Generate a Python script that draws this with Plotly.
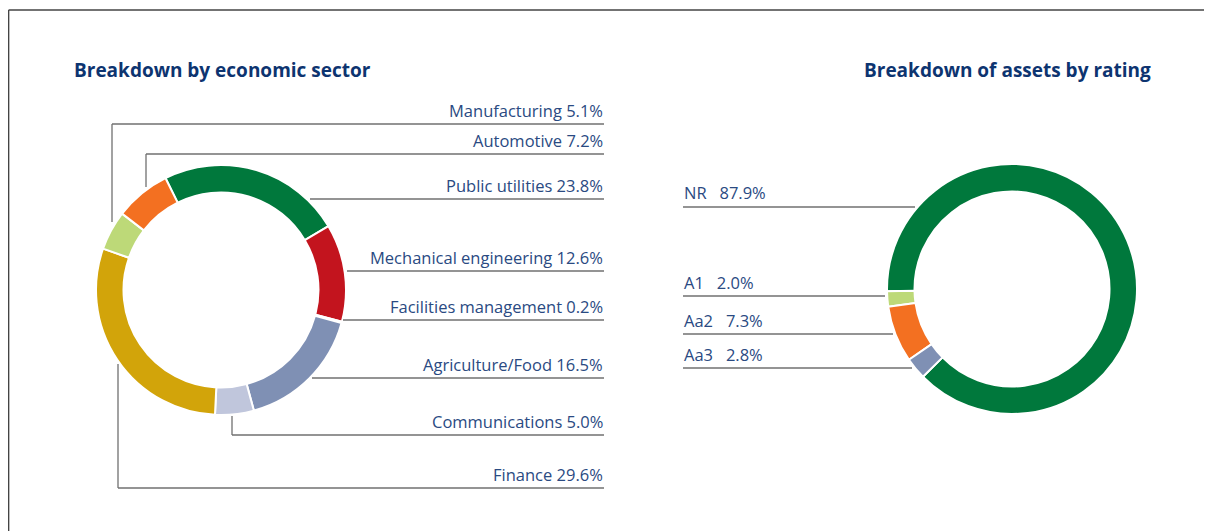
import plotly.graph_objects as go

# the page places the figure 8px from the top-left corner of the window
OFF = 8
W, H = 1212 - OFF, 531 - OFF

# ---- data ----
sector_names = ["Public utilities", "Mechanical engineering", "Facilities management",
                "Agriculture/Food", "Communications", "Finance", "Manufacturing", "Automotive"]
sector_values = [23.8, 12.6, 0.2, 16.5, 5.0, 29.6, 5.1, 7.2]
sector_colors = ["#00783C", "#C3141E", "#0B2F6E", "#7F90B4", "#C0C6DC", "#D2A40A", "#BDD978", "#F37021"]

rating_names = ["NR", "A1", "Aa2", "Aa3"]
rating_values = [87.9, 2.0, 7.3, 2.8]
rating_colors = ["#00783C", "#BDD978", "#F37021", "#7F90B4"]

TITLE_COLOR = "#0D3470"
LABEL_COLOR = "#2A4A82"
LINE_COLOR = "#707070"
FONT = "Open Sans"


def px(x):
    return (x - OFF) / W


def py(y):
    return 1 - (y - OFF) / H


fig = go.Figure()

fig.add_trace(go.Pie(
    labels=sector_names, values=sector_values, sort=False, direction="clockwise",
    rotation=-26.4, hole=0.78, textinfo="none", hoverinfo="label+percent",
    marker=dict(colors=sector_colors, line=dict(color="white", width=2)),
    domain=dict(x=[px(96), px(346)], y=[py(415), py(165)]), showlegend=False,
))

fig.add_trace(go.Pie(
    labels=rating_names, values=rating_values, sort=False, direction="counterclockwise",
    rotation=-91, hole=0.78, textinfo="none", hoverinfo="label+percent",
    marker=dict(colors=rating_colors, line=dict(color="white", width=2)),
    domain=dict(x=[px(887), px(1137)], y=[py(414), py(164)]), showlegend=False,
))

shapes = []
annotations = []


def seg(x0, y0, x1, y1, color=LINE_COLOR, width=1.3):
    shapes.append(dict(type="line", xref="paper", yref="paper",
                       x0=px(x0), y0=py(y0), x1=px(x1), y1=py(y1),
                       line=dict(color=color, width=width)))


# frame
seg(8.6, 10, 1212, 10, color="#444444", width=1.5)
seg(8.6, 10, 8.6, 531, color="#444444", width=1.5)

# left chart leader rows: (line y, start x, vertical-from y or None)
left_rows = {
    "Manufacturing": (124, 112, 222),
    "Automotive": (154, 146, 187),
    "Public utilities": (199, 310, None),
    "Mechanical engineering": (271, 347, None),
    "Facilities management": (320, 343, None),
    "Agriculture/Food": (378, 312, None),
    "Communications": (435, 232, 416),
    "Finance": (488, 118, 364),
}
LEFT_END = 604
for name, val in zip(sector_names, sector_values):
    ly, sx, vy = left_rows[name]
    seg(sx, ly, LEFT_END, ly)
    if vy is not None:
        seg(sx, ly, sx, vy)
    annotations.append(dict(x=px(605), y=py(ly - 14), xref="paper", yref="paper",
                            text=f"{name} {val:.1f}%", showarrow=False,
                            xanchor="right", yanchor="middle",
                            font=dict(family=FONT, size=16.5, color=LABEL_COLOR)))

# right chart leader rows: (line y, end x)
right_rows = {"NR": (207, 915), "A1": (296, 885), "Aa2": (334, 893), "Aa3": (368, 912)}
RIGHT_START = 683
for name, val in zip(rating_names, rating_values):
    ly, ex = right_rows[name]
    seg(RIGHT_START, ly, ex, ly)
    annotations.append(dict(x=px(682), y=py(ly - 14), xref="paper", yref="paper",
                            text=f"{name}\u00a0\u00a0\u00a0{val:.1f}%", showarrow=False,
                            xanchor="left", yanchor="middle",
                            font=dict(family=FONT, size=16.5, color=LABEL_COLOR)))

# titles
annotations.append(dict(x=px(72), y=py(70), xref="paper", yref="paper",
                        text="<b>Breakdown by economic sector</b>", showarrow=False,
                        xanchor="left", yanchor="middle",
                        font=dict(family=FONT, size=19, color=TITLE_COLOR)))
annotations.append(dict(x=px(862), y=py(70), xref="paper", yref="paper",
                        text="<b>Breakdown of assets by rating</b>", showarrow=False,
                        xanchor="left", yanchor="middle",
                        font=dict(family=FONT, size=19, color=TITLE_COLOR)))

fig.update_layout(
    width=W, height=H, margin=dict(l=0, r=0, t=0, b=0),
    paper_bgcolor="white", plot_bgcolor="white",
    shapes=shapes, annotations=annotations,
)

fig.write_html("out.html")
